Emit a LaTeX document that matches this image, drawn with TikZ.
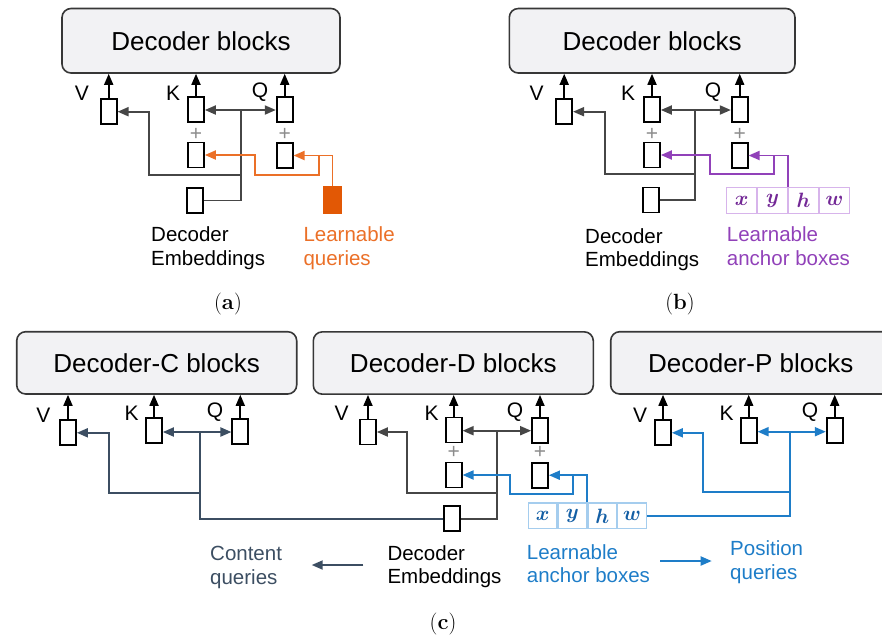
\documentclass[tikz,border=0pt]{standalone}
\usepackage{amsmath}
\usepackage{fontspec}
\newfontfamily\sans{Liberation Sans}
\usetikzlibrary{arrows.meta}
\definecolor{boxfill}{RGB}{242,242,244}
\definecolor{boxline}{RGB}{55,55,55}
\definecolor{dline}{RGB}{70,70,70}
\definecolor{orl}{RGB}{235,112,40}
\definecolor{orf}{RGB}{226,88,5}
\definecolor{pul}{RGB}{145,65,185}
\definecolor{pucell}{RGB}{215,180,235}
\definecolor{puletter}{RGB}{115,40,150}
\definecolor{bll}{RGB}{30,125,200}
\definecolor{blcell}{RGB}{165,205,238}
\definecolor{blletter}{RGB}{20,95,165}
\definecolor{slate}{RGB}{60,78,98}
\definecolor{plusc}{RGB}{140,140,140}
\tikzset{
 blk/.style={draw=boxline, fill=boxfill, rounded corners=9pt, line width=1.6pt, inner sep=0pt, font=\sans\fontsize{26}{30}\selectfont},
 vec/.style={draw=black, fill=white, line width=1.7pt, minimum width=16pt, minimum height=25pt, inner sep=0pt},
 lbl/.style={inner sep=0pt, font=\sans\fontsize{21}{24}\selectfont},
 txt/.style={inner sep=0pt, anchor=north west, align=left, font=\sans\fontsize{20.5}{23.5}\selectfont},
 plussign/.style={inner sep=0pt, text=plusc, font=\sans\fontsize{21}{21}\selectfont},
 uparr/.style={draw=black, line width=1.7pt, -{Triangle[length=11pt,width=9pt]}},
 tipped/.style={-{Triangle[length=11pt,width=9pt]}},
 conn/.style={draw=dline, line width=1.9pt},
 oconn/.style={draw=orl, line width=1.9pt},
 pconn/.style={draw=pul, line width=1.9pt},
 bconn/.style={draw=bll, line width=1.9pt},
 sconn/.style={draw=slate, line width=1.9pt},
 cell/.style={draw=#1, line width=1.2pt, minimum height=25.6pt, inner sep=0pt, font=\fontsize{22}{22}\selectfont},
 captxt/.style={inner sep=0pt, font=\rmfamily\fontsize{22}{22}\selectfont},
}
\begin{document}
\begin{tikzpicture}[x=1pt,y=-1pt]
\useasboundingbox (0,0) rectangle (882,638);
\clip (0,0) rectangle (882,638);
% ================= (a) =================
\node[blk, minimum width=278pt, minimum height=64.5pt] (blkA) at (201,40.75) {Decoder blocks};
\node[vec] (vA) at (108.7,111.7) {};
\node[vec] (kA) at (196,109.3) {};
\node[vec] (qA) at (284.7,109.8) {};
\node[vec] (kA2) at (196,155) {};
\node[vec] (qA2) at (284.7,155.5) {};
\node[vec] (eA) at (195,200.5) {};
\node[vec, draw=orf, fill=orf, minimum width=17pt, minimum height=26pt] (lqA) at (332.5,200) {};
\node[lbl] (lvA) at (82,93) {V};
\node[lbl] (lkA) at (173,93) {K};
\node[lbl] (lqlA) at (260,92) {Q};
\node[plussign] (pkA) at (196,134) {+};
\node[plussign] (pqA) at (284.7,134) {+};
\foreach \n in {vA,kA,qA} \draw[uparr] (\n.north) -- (\n.north |- blkA.south);
\coordinate (jA) at (240.7,110);
\coordinate (gA1) at (240.7,175);
\coordinate (gA2) at (149,175);
\draw[conn] (eA.east) -| (jA);
\draw[conn,tipped] (jA) -- (jA -| kA.east);
\draw[conn,tipped] (jA) -- (jA -| qA.west);
\draw[conn,tipped] (gA1) -- (gA2) |- (vA.east);
\coordinate (oA1) at (319.3,155.5);
\coordinate (oA2) at (255,175);
\draw[oconn,tipped] (lqA.north) |- (qA2.east);
\draw[oconn,tipped] (oA1) |- (oA2) |- (kA2.east);
\node[txt] (deA) at (151,226.5) {Decoder\\Embeddings};
\node[txt, text=orl] (lqtA) at (303.3,226.5) {Learnable\\queries};
\node[captxt] (capA) at (228,304) {(\textbf{a})};
% ================= (b) =================
\node[blk, minimum width=285.7pt, minimum height=64.5pt] (blkB) at (652.15,40.75) {Decoder blocks};
\node[vec] (vB) at (564.2,111.7) {};
\node[vec] (kB) at (652,109.3) {};
\node[vec] (qB) at (739.7,109.8) {};
\node[vec] (kB2) at (652,155) {};
\node[vec] (qB2) at (739.7,155.5) {};
\node[vec] (eB) at (651,200) {};
\node[lbl] (lvB) at (536.7,93) {V};
\node[lbl] (lkB) at (628,93) {K};
\node[lbl] (lqlB) at (713,92) {Q};
\node[plussign] (pkB) at (652,134) {+};
\node[plussign] (pqB) at (739.7,134) {+};
\foreach \n in {vB,kB,qB} \draw[uparr] (\n.north) -- (\n.north |- blkB.south);
\node[cell=pucell, minimum width=29.75pt] (xB) at (741.6,200.5) {\color{puletter}$\boldsymbol{x}$};
\node[cell=pucell, minimum width=29.75pt, anchor=west] (yB) at (xB.east) {\color{puletter}$\boldsymbol{y}$};
\node[cell=pucell, minimum width=29.75pt, anchor=west] (hB) at (yB.east) {\color{puletter}$\boldsymbol{h}$};
\node[cell=pucell, minimum width=29.75pt, anchor=west] (wB) at (hB.east) {\color{puletter}$\boldsymbol{w}$};
\coordinate (jB) at (695,110);
\coordinate (gB1) at (695,174);
\coordinate (gB2) at (605,174);
\draw[conn] (eB.east) -| (jB);
\draw[conn,tipped] (jB) -- (jB -| kB.east);
\draw[conn,tipped] (jB) -- (jB -| qB.west);
\draw[conn,tipped] (gB1) -- (gB2) |- (vB.east);
\coordinate (pB1) at (774,155.5);
\coordinate (pB2) at (710,174);
\draw[pconn,tipped] (hB.north west) |- (qB2.east);
\draw[pconn,tipped] (pB1) |- (pB2) |- (kB2.east);
\node[txt] (deB) at (585,228) {Decoder\\Embeddings};
\node[txt, text=pul] (labB) at (726.7,226.5) {Learnable\\anchor boxes};
\node[captxt] (capB) at (680,304) {(\textbf{b})};
% ================= (c) =================
\node[blk, minimum width=280pt, minimum height=62.3pt] (blkC) at (156.7,362.85) {Decoder-C blocks};
\node[blk, minimum width=280pt, minimum height=62.3pt] (blkD) at (453.3,363) {Decoder-D blocks};
\node[blk, minimum width=280pt, minimum height=62.3pt] (blkP) at (750.7,362.85) {Decoder-P blocks};
\node[vec] (vC) at (68,432.8) {};
\node[vec] (kC) at (154,430.5) {};
\node[vec] (qC) at (240.3,431.5) {};
\node[vec] (vD) at (368,432) {};
\node[vec] (kD) at (453.7,430) {};
\node[vec] (qD) at (540,430.5) {};
\node[vec] (kD2) at (453.7,475) {};
\node[vec] (qD2) at (540,475.2) {};
\node[vec] (eD) at (452.2,518.8) {};
\node[vec] (vP) at (663,432.8) {};
\node[vec] (kP) at (748.7,430.5) {};
\node[vec] (qP) at (834.7,430.5) {};
\node[lbl] (lvC) at (43.3,415) {V};
\node[lbl] (lkC) at (131.7,413) {K};
\node[lbl] (lqlC) at (215,412) {Q};
\node[lbl] (lvD) at (341.7,413) {V};
\node[lbl] (lkD) at (431.7,413) {K};
\node[lbl] (lqlD) at (515,412) {Q};
\node[lbl] (lvP) at (640,415) {V};
\node[lbl] (lkP) at (726.7,413) {K};
\node[lbl] (lqlP) at (810,412) {Q};
\node[plussign] (pkD) at (453.7,452.7) {+};
\node[plussign] (pqD) at (540,452.7) {+};
\foreach \n in {vC,kC,qC} \draw[uparr] (\n.north) -- (\n.north |- blkC.south);
\foreach \n in {vD,kD,qD} \draw[uparr] (\n.north) -- (\n.north |- blkD.south);
\foreach \n in {vP,kP,qP} \draw[uparr] (\n.north) -- (\n.north |- blkP.south);
\node[cell=blcell, minimum width=28.6pt] (xC) at (542.6,515.8) {\color{blletter}$\boldsymbol{x}$};
\node[cell=blcell, minimum width=28.6pt, anchor=west] (yC) at (xC.east) {\color{blletter}$\boldsymbol{y}$};
\node[cell=blcell, minimum width=28.6pt, anchor=west] (hC) at (yC.east) {\color{blletter}$\boldsymbol{h}$};
\node[cell=blcell, minimum width=28.6pt, anchor=west] (wC) at (hC.east) {\color{blletter}$\boldsymbol{w}$};
% black (D)
\coordinate (jD) at (496.7,430.7);
\coordinate (gD1) at (496.7,493.3);
\coordinate (gD2) at (407.3,493.3);
\draw[conn] (eD.east) -| (jD);
\draw[conn,tipped] (jD) -- (jD -| kD.east);
\draw[conn,tipped] (jD) -- (jD -| qD.west);
\draw[conn,tipped] (gD1) -- (gD2) |- (vD.east);
% slate (C)
\coordinate (jC) at (200,432);
\coordinate (sC1) at (200,493.3);
\coordinate (sC2) at (109.3,493.3);
\draw[sconn] (eD.west) -| (jC);
\draw[sconn,tipped] (jC) -- (jC -| kC.east);
\draw[sconn,tipped] (jC) -- (jC -| qC.west);
\draw[sconn,tipped] (sC1) -- (sC2) |- (vC.east);
% blue (D lower)
\coordinate (bD1) at (573.3,475.2);
\coordinate (bD2) at (510,494.3);
\draw[bconn,tipped] (hC.north west) |- (qD2.east);
\draw[bconn,tipped] (bD1) |- (bD2) |- (kD2.east);
% blue (P)
\coordinate (jP) at (790,431.7);
\coordinate (bP1) at (790,491.7);
\coordinate (bP2) at (703.3,491.7);
\draw[bconn] (wC.east) -| (jP);
\draw[bconn,tipped] (jP) -- (jP -| kP.east);
\draw[bconn,tipped] (jP) -- (jP -| qP.west);
\draw[bconn,tipped] (bP1) -- (bP2) |- (vP.east);
% legend
\coordinate (la1) at (363.3,565);
\coordinate (la2) at (311.7,565);
\draw[sconn,tipped] (la1) -- (la2);
\coordinate (lb1) at (660,561);
\coordinate (lb2) at (711.7,561);
\draw[bconn,tipped] (lb1) -- (lb2);
\node[txt, text=slate] (cqt) at (210,546) {Content\\queries};
\node[txt] (deC) at (387.3,545) {Decoder\\Embeddings};
\node[txt, text=bll] (labC) at (526.7,544) {Learnable\\anchor boxes};
\node[txt, text=bll] (pqt) at (730,540.7) {Position\\queries};
\node[captxt] (capC) at (443,624) {(\textbf{c})};
\end{tikzpicture}
\end{document}
